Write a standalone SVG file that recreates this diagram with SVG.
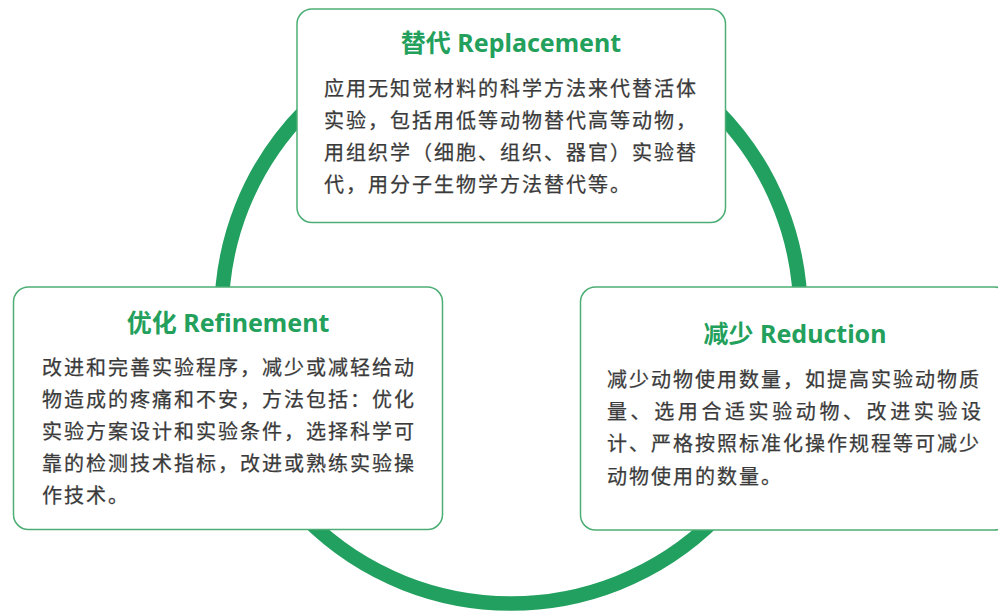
<svg xmlns="http://www.w3.org/2000/svg" width="998" height="612" viewBox="0 0 998 612">
<style>
.box{fill:#ffffff;stroke:#4cae74;stroke-width:1.5}
.title{font-family:"Noto Sans","Noto Sans CJK SC",sans-serif;font-weight:700;font-size:25px;fill:#22a05c;text-anchor:middle}
.body{font-family:"Noto Sans CJK SC","Noto Sans",sans-serif;font-size:20px;fill:#3a3a3a;letter-spacing:2px;stroke:#3a3a3a;stroke-width:0.25}
.ring{fill:none;stroke:#22a060;stroke-width:14.5}
</style>
<rect width="998" height="612" fill="#ffffff"/>
<g id="connectors">
<circle class="ring" cx="511" cy="314" r="289.5"/>
</g>
<g id="replacement">
<rect class="box" x="297" y="9" width="428.5" height="213.5" rx="15"/>
<text class="title" x="511" y="52">替代 Replacement</text>
<text class="body" x="324" y="96">应用无知觉材料的科学方法来代替活体</text>
<text class="body" x="324" y="128">实验，包括用低等动物替代高等动物，</text>
<text class="body" x="324" y="160">用组织学（细胞、组织、器官）实验替</text>
<text class="body" x="324" y="192">代，用分子生物学方法替代等。</text>
</g>
<g id="refinement">
<rect class="box" x="13.5" y="287" width="429" height="242.5" rx="15"/>
<text class="title" x="228" y="331.5">优化 Refinement</text>
<text class="body" x="42" y="375">改进和完善实验程序，减少或减轻给动</text>
<text class="body" x="42" y="407">物造成的疼痛和不安，方法包括：优化</text>
<text class="body" x="42" y="439">实验方案设计和实验条件，选择科学可</text>
<text class="body" x="42" y="471">靠的检测技术指标，改进或熟练实验操</text>
<text class="body" x="42" y="503">作技术。</text>
</g>
<g id="reduction">
<rect class="box" x="580.5" y="287" width="429" height="243" rx="15"/>
<text class="title" x="795" y="343">减少 Reduction</text>
<text class="body" x="607" y="386.5">减少动物使用数量，如提高实验动物质</text>
<text class="body" x="607" y="419" textLength="376" lengthAdjust="spacing">量、选用合适实验动物、改进实验设</text>
<text class="body" x="607" y="451">计、严格按照标准化操作规程等可减少</text>
<text class="body" x="607" y="483.5">动物使用的数量。</text>
</g>
</svg>
